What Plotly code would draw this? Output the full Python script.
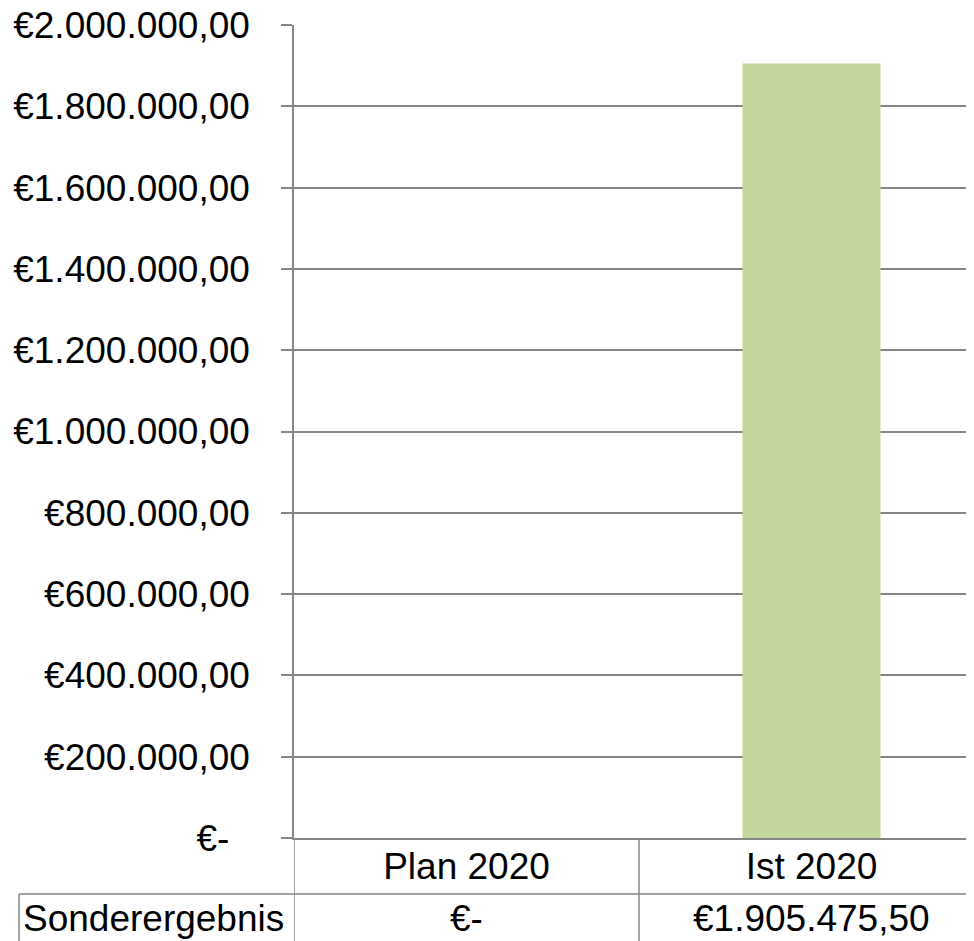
import plotly.graph_objects as go

categories = ["Plan 2020", "Ist 2020"]
series_name = "Sonderergebnis"
values = [0, 1905475.50]
y_ticks = [0, 200000, 400000, 600000, 800000, 1000000,
           1200000, 1400000, 1600000, 1800000, 2000000]


def euro(v):
    # Excel accounting style, German separators
    if v == 0:
        return "€-"
    s = f"{v:,.2f}"
    return "€" + s.replace(",", "X").replace(".", ",").replace("X", ".")


# the page body adds an 8px margin, so the figure is 8px smaller on each side
W, H = 966, 933
L, R, T, B = 286, 0, 17, 103
plot_w = W - L - R
plot_h = H - T - B
cat_w = 345  # px per category in the original (last column is cut off)
font = dict(family="Liberation Sans, Arial, sans-serif", size=37, color="black")
grid = "#868686"

fig = go.Figure()
fig.add_trace(go.Bar(
    x=categories, y=values, name=series_name,
    marker=dict(color="#C3D69B", line=dict(width=0)),
    width=0.4, showlegend=False,
))

# data table lines under the axis
row1 = 56 / plot_h
row2 = B / plot_h
fig.add_shape(type="line", xref="x", yref="paper", x0=-0.5, x1=-0.5, y0=0, y1=-row2,
              line=dict(color=grid, width=1.5))
fig.add_shape(type="line", xref="x", yref="paper", x0=0.5, x1=0.5, y0=0, y1=-row2,
              line=dict(color=grid, width=1.5))
left_edge = -(L - 11) / plot_w
fig.add_shape(type="line", xref="paper", yref="paper", x0=left_edge, x1=1, y0=-row1, y1=-row1,
              line=dict(color=grid, width=1.5))
fig.add_shape(type="line", xref="paper", yref="paper", x0=left_edge, x1=left_edge, y0=-row1, y1=-row2,
              line=dict(color=grid, width=1.5))

fig.add_annotation(xref="paper", yref="paper", x=left_edge, y=-(row1 + row2) / 2,
                   text=series_name, showarrow=False, xanchor="left", yanchor="middle",
                   xshift=2, yshift=-1, font=font)
for c, v in zip(categories, values):
    fig.add_annotation(xref="x", yref="paper", x=c, y=-(row1 + row2) / 2,
                       text=euro(v), showarrow=False, xanchor="center", yanchor="middle",
                       yshift=-1, font=font)

fig.update_layout(
    width=W, height=H,
    margin=dict(l=L, r=R, t=T, b=B, pad=0),
    paper_bgcolor="white", plot_bgcolor="white",
    font=font,
    bargap=0.6,
)
fig.update_xaxes(
    type="category",
    range=[-0.5, -0.5 + plot_w / cat_w],
    showgrid=False, showline=True, linecolor=grid, linewidth=1.5,
    ticks="", tickfont=font, ticklabelstandoff=-5,
    automargin=False, fixedrange=True,
)
fig.update_yaxes(
    range=[0, 2000000],
    tickvals=y_ticks,
    ticktext=[euro(v) + ("\u00a0\u00a0" if v == 0 else "") for v in y_ticks],
    showgrid=True, gridcolor=grid, gridwidth=1.5,
    zeroline=False,
    showline=True, linecolor=grid, linewidth=1.5,
    ticks="outside", ticklen=11, tickcolor=grid, tickwidth=1.5,
    ticklabelstandoff=24, ticklabeloverflow="allow",
    tickfont=font, automargin=False, fixedrange=True,
)

fig.write_html("out.html")
